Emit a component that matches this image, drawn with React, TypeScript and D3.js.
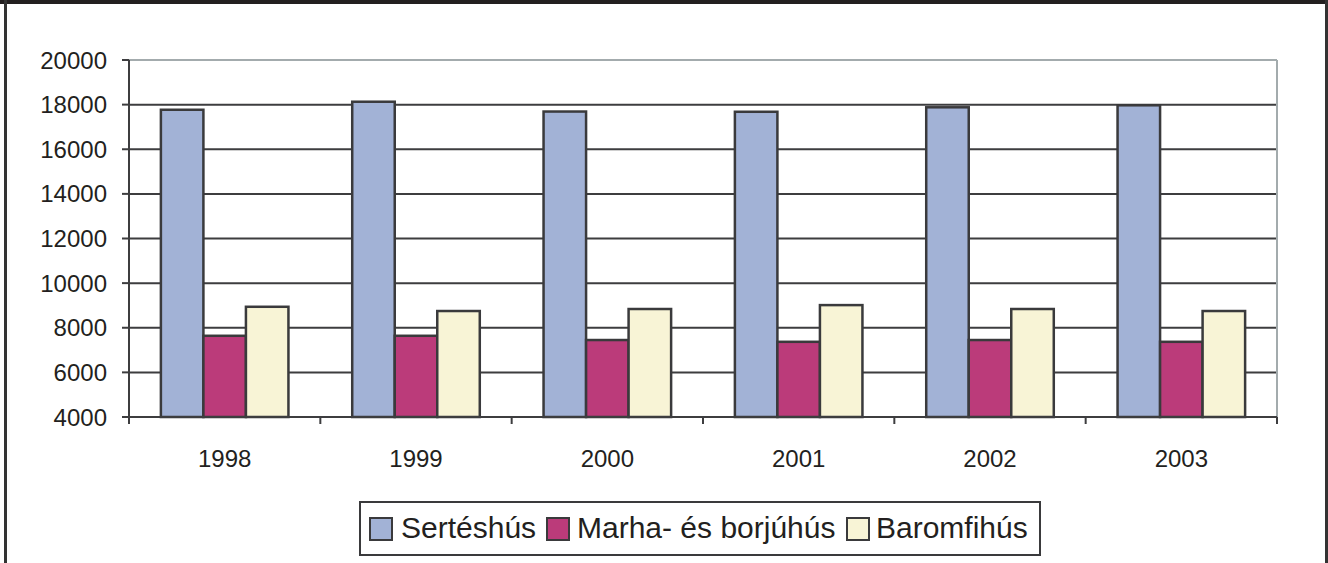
import React from "react";
import * as d3 from "d3";

const years = ["1998", "1999", "2000", "2001", "2002", "2003"];
const seriesNames = ["Sertéshús", "Marha- és borjúhús", "Baromfihús"];
const serteshus = [17770, 18130, 17690, 17680, 17880, 17970];
const marha = [7640, 7640, 7450, 7370, 7450, 7370];
const baromfi = [8940, 8750, 8840, 9015, 8840, 8750];
const colors = ["#a2b2d6", "#bb3b7a", "#f8f4d6"];
const yTicks = [4000, 6000, 8000, 10000, 12000, 14000, 16000, 18000, 20000];

const W = 1328;
const H = 563;
const left = 129;
const right = 1277;
const top = 60;
const bottom = 417;
const font = "'Liberation Sans', Arial, Helvetica, sans-serif";

export default function App() {
  const values = [serteshus, marha, baromfi];
  const y = d3.scaleLinear().domain([4000, 20000]).range([bottom, top]);
  const x0 = d3.scaleBand<string>().domain(years).range([left, right]);
  const x1 = d3
    .scaleBand<string>()
    .domain(seriesNames)
    .range([0, x0.bandwidth()])
    .paddingInner(0)
    .paddingOuter(0.75);

  const legendItems = [
    { sx: 370, tx: 401 },
    { sx: 547, tx: 577 },
    { sx: 847, tx: 876 },
  ];

  return (
    <div style={{ position: "absolute", left: 0, top: 0 }}>
      <svg width={W} height={H} style={{ display: "block", background: "#fff" }}>
        {/* outer frame */}
        <rect x={0} y={0} width={W} height={4} fill="#231f20" />
        <rect x={4} y={0} width={3} height={H} fill="#333" />
        <rect x={1325} y={0} width={3} height={H} fill="#333" />

        {/* gridlines */}
        {yTicks.map((t) =>
          t === 20000 || t === 4000 ? null : (
            <line
              key={t}
              x1={left}
              x2={right}
              y1={y(t)}
              y2={y(t)}
              stroke="#3d3d3f"
              strokeWidth={2}
            />
          )
        )}
        {/* plot top and right border */}
        <line x1={left} x2={right} y1={y(20000)} y2={y(20000)} stroke="#a3abad" strokeWidth={2} />
        <line x1={right} x2={right} y1={top} y2={bottom} stroke="#a3abad" strokeWidth={2} />

        {/* bars */}
        {years.map((yr, i) => (
          <g key={yr} transform={`translate(${x0(yr)},0)`}>
            {seriesNames.map((s, k) => (
              <rect
                key={s}
                x={x1(s)}
                y={y(values[k][i])}
                width={x1.bandwidth()}
                height={bottom - y(values[k][i])}
                fill={colors[k]}
                stroke="#3a3a3c"
                strokeWidth={2.5}
              />
            ))}
          </g>
        ))}

        {/* y axis */}
        <line x1={left} x2={left} y1={top} y2={bottom} stroke="#3d3d3f" strokeWidth={2} />
        {yTicks.map((t) => (
          <g key={t}>
            <line x1={left - 7} x2={left} y1={y(t)} y2={y(t)} stroke="#3d3d3f" strokeWidth={2} />
            <text
              x={107}
              y={y(t) + 8.5}
              textAnchor="end"
              fontFamily={font}
              fontSize={24}
              fill="#231f20"
            >
              {t}
            </text>
          </g>
        ))}

        {/* x axis */}
        <line x1={left} x2={right} y1={bottom} y2={bottom} stroke="#3d3d3f" strokeWidth={2} />
        {[...years.map((yr) => x0(yr) as number), right].map((xv, i) => (
          <line key={i} x1={xv} x2={xv} y1={bottom} y2={bottom + 7} stroke="#3d3d3f" strokeWidth={2} />
        ))}
        {years.map((yr) => (
          <text
            key={yr}
            x={(x0(yr) as number) + x0.bandwidth() / 2}
            y={467}
            textAnchor="middle"
            fontFamily={font}
            fontSize={24}
            fill="#231f20"
          >
            {yr}
          </text>
        ))}

        {/* legend */}
        <rect x={360} y={502} width={680} height={53} fill="#fff" stroke="#3a3a3c" strokeWidth={2} />
        {seriesNames.map((s, k) => (
          <g key={s}>
            <rect
              x={legendItems[k].sx}
              y={518}
              width={22}
              height={22}
              fill={colors[k]}
              stroke="#3a3a3c"
              strokeWidth={2}
            />
            <text
              x={legendItems[k].tx}
              y={538}
              fontFamily={font}
              fontSize={30}
              fill="#231f20"
            >
              {s}
            </text>
          </g>
        ))}
      </svg>
    </div>
  );
}
